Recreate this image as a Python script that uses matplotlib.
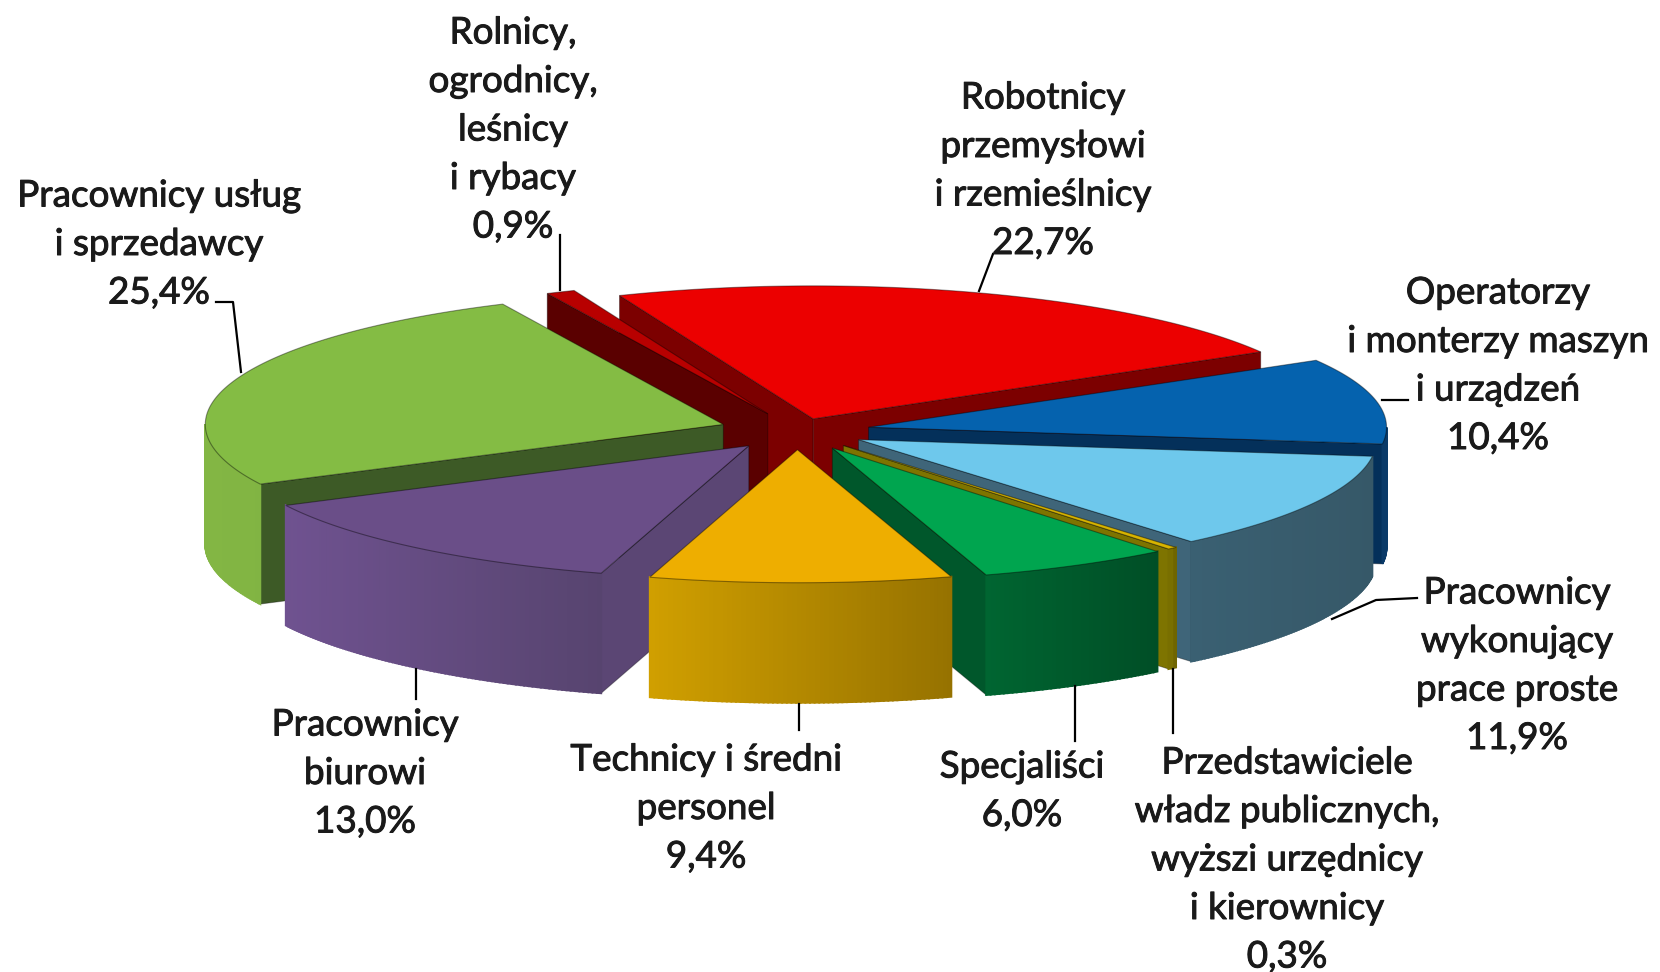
# Exploded 3D style pie chart, drawn with polygons in pixel coordinates

import numpy as np
import matplotlib
matplotlib.use("Agg")
import matplotlib.pyplot as plt
import matplotlib.patheffects as pe
from matplotlib.patches import Polygon

# data, clockwise starting at the thin red slice
names = ["Rolnicy", "Robotnicy", "Operatorzy", "Proste", "Przedstawiciele",
         "Specjalisci", "Technicy", "Biurowi", "Uslugi"]
values = [0.9, 22.7, 10.4, 11.9, 0.3, 6.0, 9.4, 13.0, 25.4]
value_labels = ["0,9%", "22,7%", "10,4%", "11,9%", "0,3%", "6,0%", "9,4%", "13,0%", "25,4%"]
label_lines = [
    ["Rolnicy,", "ogrodnicy,", "leśnicy", "i rybacy"],
    ["Robotnicy", "przemysłowi", "i rzemieślnicy"],
    ["Operatorzy", "i monterzy maszyn", "i urządzeń"],
    ["Pracownicy", "wykonujący", "prace proste"],
    ["Przedstawiciele", "władz publicznych,", "wyższi urzędnicy", "i kierownicy"],
    ["Specjaliści"],
    ["Technicy i średni", "personel"],
    ["Pracownicy", "biurowi"],
    ["Pracownicy usług", "i sprzedawcy"],
]

# layout of the pie
start_angle = -25.2
cx, cy = 797, 431
rx, ry = 518, 133
depth = 120
explode = [73, 50, 73, 70, 73, 75, 73, 75, 78]
draw_order = [1, 0, 8, 2, 7, 3, 4, 5, 6]

# colours per slice
top_colors = ["#B80000", "#EC0000", "#0562AE", "#6EC8EC", "#D8B400", "#00A54F", "#EEAE00", "#6A4E88", "#84BC44"]
wall_colors = ["#5A0000", "#7C0000", "#04305A", "#3F6579", "#7E7400", "#00572B", "#B58A00", "#5B4674", "#3D5A26"]
side_left = ["#7A0000", "#7A0000", "#0A3A68", "#3A6072", "#7E7400", "#006531", "#D09F00", "#6F5290", "#83B644"]
side_right = ["#7A0000", "#7A0000", "#0A3A68", "#365868", "#6A6000", "#004E26", "#967200", "#57446F", "#7AAD3E"]

# label placement
label_x = [513, 1043, 1498, 1517, 1287, 1022, 706, 365, 159]
label_y = [33, 98, 293, 593, 763, 767, 760, 725, 196]
line_gap = 48.5
leaders = [
    [(560, 235), (560, 290)],
    [(993, 254), (979, 291)],
    [(1408, 400), (1382, 400)],
    [(1417, 598), (1376, 600), (1332, 619)],
    [(1173, 669), (1173, 733)],
    [(1075, 686), (1075, 741)],
    [(799, 704), (799, 730)],
    [(416, 669), (416, 699)],
    [(216, 302), (233, 302), (241, 372)],
]


def point(ax0, ay0, deg):
    rad = np.radians(deg)
    return ax0 + rx * np.sin(rad), ay0 - ry * np.cos(rad)


def mix(c1, c2, t):
    a = np.array(matplotlib.colors.to_rgb(c1))
    b = np.array(matplotlib.colors.to_rgb(c2))
    return a + (b - a) * t


fig = plt.figure(figsize=(16.6, 9.72), dpi=100)
ax = fig.add_axes([0, 0, 1, 1])
ax.set_xlim(0, 1660)
ax.set_ylim(972, 0)
ax.axis("off")

edges = start_angle + np.cumsum([0] + values) * 3.6

for i in draw_order:
    a0, a1 = edges[i], edges[i + 1]
    mid = np.radians((a0 + a1) / 2)
    ox = cx + explode[i] * np.sin(mid)
    oy = cy - explode[i] * ry / rx * np.cos(mid)
    arc = np.linspace(a0, a1, max(int((a1 - a0) * 2), 3))
    px = [point(ox, oy, a) for a in arc]

    # cut faces, only those turned towards the viewer
    if np.sin(np.radians(a0)) < 0:
        p = px[0]
        quad = [(ox, oy), p, (p[0], p[1] + depth), (ox, oy + depth)]
        ax.add_patch(Polygon(quad, fc=wall_colors[i], ec="#00000055", lw=0.7, zorder=1))
    if np.sin(np.radians(a1)) > 0:
        p = px[-1]
        quad = [(ox, oy), p, (p[0], p[1] + depth), (ox, oy + depth)]
        ax.add_patch(Polygon(quad, fc=wall_colors[i], ec="#00000055", lw=0.7, zorder=1))

    # outer wall, split in strips for the horizontal gradient
    xs = [p[0] for p in px]
    for k in range(len(px) - 1):
        if np.cos(np.radians((arc[k] + arc[k + 1]) / 2)) > 0:
            continue
        p, q = px[k], px[k + 1]
        t = ((p[0] + q[0]) / 2 - min(xs)) / max(max(xs) - min(xs), 1)
        quad = [p, q, (q[0], q[1] + depth), (p[0], p[1] + depth)]
        col = mix(side_left[i], side_right[i], t)
        ax.add_patch(Polygon(quad, fc=col, ec=col, lw=1.4, zorder=1))

    # top face
    ax.add_patch(Polygon([(ox, oy)] + px, fc=top_colors[i], ec="#00000066", lw=0.8, zorder=1))

# labels
for i in range(len(values)):
    lines = label_lines[i] + [value_labels[i]]
    for n, line in enumerate(lines):
        ax.text(label_x[i], label_y[i] + n * line_gap, line, ha="center", va="center",
                fontsize=26.5, family="Lato", color="#1a1a1a", zorder=3,
                path_effects=[pe.withStroke(linewidth=0.7, foreground="#1a1a1a")])
    xy = np.array(leaders[i])
    ax.plot(xy[:, 0], xy[:, 1], color="black", lw=1.6, zorder=2)

fig.savefig("out.png", dpi=100, facecolor="white")
